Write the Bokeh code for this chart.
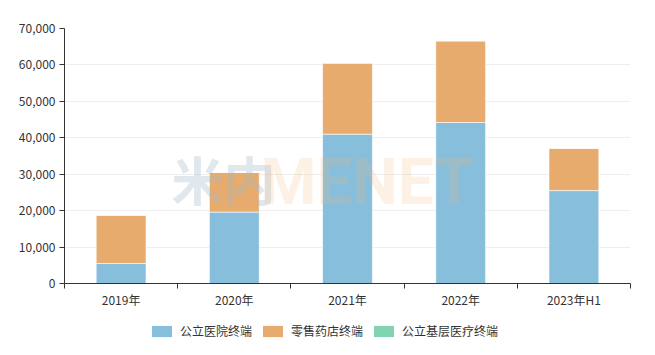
from bokeh.plotting import figure
from bokeh.layouts import column
from bokeh.models import (ColumnDataSource, FixedTicker, NumeralTickFormatter, Legend,
                          LegendItem, Label, Range1d)
from bokeh.embed import file_html
from bokeh.resources import INLINE

categories = ["2019年", "2020年", "2021年", "2022年", "2023年H1"]
series_names = ["公立医院终端", "零售药店终端", "公立基层医疗终端"]
public_hospital = [5500, 19600, 41000, 44200, 25500]
retail_pharmacy = [13250, 10900, 19500, 22400, 11600]
primary_care = [0, 0, 0, 0, 0]
colors = ["#86bedb", "#e7ab6e", "#80d4b0"]

FONT = "Noto Sans CJK SC"

x = [i + 0.5 for i in range(len(categories))]
b1 = [0] * len(x)
t1 = [a for a in public_hospital]
t2 = [a + b for a, b in zip(t1, retail_pharmacy)]
t3 = [a + b for a, b in zip(t2, primary_care)]
src = ColumnDataSource(dict(x=x, b1=b1, t1=t1, t2=t2, t3=t3))

p = figure(width=655, height=310, output_backend="svg", toolbar_location=None,
           x_range=Range1d(0, len(categories)), y_range=Range1d(0, 70000),
           min_border_left=64, min_border_right=25, min_border_top=28, min_border_bottom=27)
p.outline_line_color = None
p.background_fill_color = "white"

bar_kw = dict(width=0.44, line_color="#ffffff", line_alpha=0.6, line_width=1)
p.vbar(x="x", bottom="b1", top="t1", source=src, fill_color=colors[0], **bar_kw)
p.vbar(x="x", bottom="t1", top="t2", source=src, fill_color=colors[1], **bar_kw)
p.vbar(x="x", bottom="t2", top="t3", source=src, fill_color=colors[2], **bar_kw)

# x axis: labels at band centers, ticks at band boundaries
p.xaxis.ticker = FixedTicker(ticks=x, minor_ticks=list(range(len(categories) + 1)))
p.xaxis.major_label_overrides = {xi: c for xi, c in zip(x, categories)}
p.xaxis.major_tick_out = 0
p.xaxis.major_tick_in = 0
p.xaxis.minor_tick_out = 5
p.xaxis.minor_tick_in = 0
p.xaxis.minor_tick_line_color = "#333333"
p.xaxis.axis_line_color = "#333333"
p.xaxis.major_label_text_font = FONT
p.xaxis.major_label_text_font_size = "12px"
p.xaxis.major_label_text_color = "#333333"
p.xaxis.major_label_standoff = 2
p.xgrid.grid_line_color = None

p.yaxis.ticker = FixedTicker(ticks=list(range(0, 70001, 10000)))
p.yaxis.formatter = NumeralTickFormatter(format="0,0")
p.yaxis.axis_line_color = "#333333"
p.yaxis.major_tick_line_color = "#333333"
p.yaxis.major_tick_out = 5
p.yaxis.major_tick_in = 0
p.yaxis.minor_tick_line_color = None
p.yaxis.major_label_text_font = FONT
p.yaxis.major_label_text_font_size = "12px"
p.yaxis.major_label_text_color = "#333333"
p.yaxis.major_label_standoff = 4
p.ygrid.grid_line_color = "#eeeeee"
p.ygrid.grid_line_width = 1

# watermark
p.add_layout(Label(x=107, y=105, x_units="screen", y_units="screen",
                   text="米内", text_font=FONT, text_font_style="bold", text_font_size="52px",
                   text_baseline="alphabetic",
                   text_color="#9fb8c9", text_alpha=0.32, level="overlay"))
p.add_layout(Label(x=196, y=101, x_units="screen", y_units="screen",
                   text="MENET", text_font="Roboto", text_font_style="bold", text_font_size="64px",
                   text_baseline="alphabetic",
                   text_color="#f5b27a", text_alpha=0.2, level="overlay"))

# legend strip
lg = figure(width=655, height=45, output_backend="svg", toolbar_location=None,
            x_range=Range1d(0, 1), y_range=Range1d(0, 1),
            min_border_left=0, min_border_right=0, min_border_top=0, min_border_bottom=0,
            x_axis_location=None, y_axis_location=None)
lg.outline_line_color = None
lg.xgrid.visible = False
lg.ygrid.visible = False
dummies = [lg.vbar(x=[-5], top=[0], width=0.1, fill_color=c, line_color=None, border_radius=4)
           for c in colors]
legend = Legend(items=[LegendItem(label=n, renderers=[r]) for n, r in zip(series_names, dummies)],
                orientation="horizontal", location=(85, 16),
                glyph_width=25, glyph_height=14, label_height=14, label_standoff=6,
                spacing=8, padding=0, margin=0, border_line_color=None,
                background_fill_alpha=0,
                label_text_font=FONT, label_text_font_size="12px", label_text_color="#333333")
lg.add_layout(legend, "center")

layout = column(p, lg, spacing=0)
open("out.html", "w").write(file_html(layout, INLINE))
